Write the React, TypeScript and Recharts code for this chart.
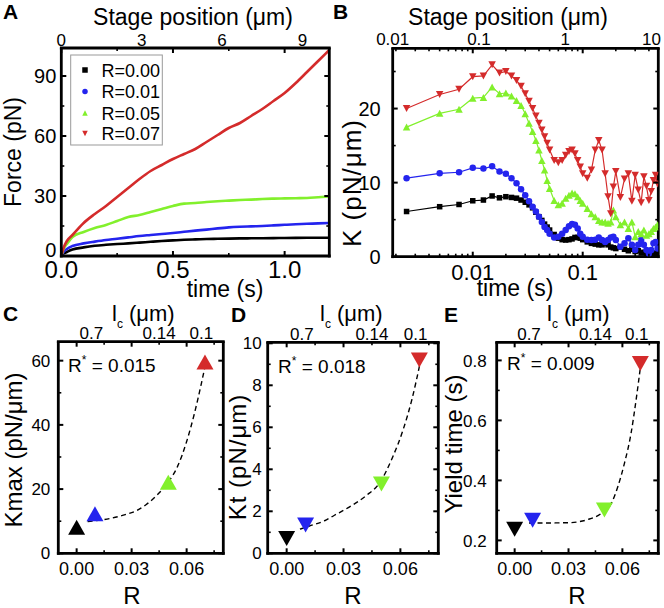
import React from 'react';
import { ComposedChart, Line, XAxis, YAxis } from 'recharts';

const FONT = '"Liberation Sans", Arial, Helvetica, sans-serif';

const C_BLACK = '#000000';
const C_BLUE = '#2424ee';
const C_GREEN = '#82f02c';
const C_RED = '#d42b2b';
const SERIES_COLORS = [C_BLACK, C_BLUE, C_GREEN, C_RED];
const SERIES_NAMES = ['R=0.00', 'R=0.01', 'R=0.05', 'R=0.07'];

// ---- panel A: force vs time ----
const A_TIME = [0, 0.01, 0.025, 0.05, 0.1, 0.15, 0.2, 0.25, 0.3, 0.35, 0.4, 0.45, 0.5, 0.55, 0.6, 0.65, 0.7, 0.75, 0.8, 0.85, 0.9, 0.95, 1.0, 1.05, 1.1, 1.15, 1.2];
const A_FORCE_R000 = [0, 1.2, 2, 3.2, 4.3, 5.1, 5.6, 6, 6.3, 6.7, 7.1, 7.5, 7.8, 8.1, 8.3, 8.5, 8.6, 8.7, 8.8, 8.85, 8.9, 8.95, 9, 9.05, 9.1, 9.1, 9.1];
const A_FORCE_R001 = [0, 2, 3.5, 5, 6.3, 7.2, 8, 8.6, 9.3, 10, 10.5, 11, 11.5, 12.1, 12.7, 13.2, 13.8, 14.3, 14.6, 14.8, 15, 15.3, 15.6, 15.9, 16.1, 16.3, 16.5];
const A_FORCE_R005 = [0, 3.5, 6, 9.5, 12, 14, 15.5, 17.5, 19.5, 20.5, 22, 23.5, 25, 26.2, 26.5, 27, 27.4, 27.7, 28, 28.2, 28.5, 28.7, 28.8, 28.9, 29, 29.4, 29.8];
const A_FORCE_R007 = [0, 4, 7.5, 10.5, 16.5, 21, 25, 29.5, 34, 38.5, 42.5, 45.5, 48.5, 51, 53.5, 57, 60.5, 64, 66.5, 70, 73.5, 77.5, 81.5, 86.5, 92, 97.5, 103];
const A_X_TICKS = [0, 0.25, 0.5, 0.75, 1.0];
const A_X_MAJOR = [0, 0.5, 1.0];
const A_Y_TICKS = [0, 15, 30, 45, 60, 75, 90];
const A_Y_MAJOR = [0, 30, 60, 90];
const A_STAGE_TICKS = [0, 3, 6, 9];

// ---- panel B: stiffness vs time (log) ----
const B_TIME = [0.0025, 0.005, 0.0075, 0.01, 0.0125, 0.015, 0.0175, 0.02, 0.0225, 0.025, 0.0275, 0.03, 0.0325, 0.035, 0.0375, 0.04, 0.0425, 0.045, 0.0475, 0.05, 0.055, 0.06, 0.065, 0.07, 0.075, 0.08, 0.085, 0.09, 0.095, 0.1, 0.11, 0.12, 0.13, 0.14, 0.15, 0.16, 0.17, 0.18, 0.19, 0.2, 0.22, 0.24, 0.26, 0.28, 0.3, 0.32, 0.34, 0.36, 0.38, 0.4, 0.42, 0.44, 0.46, 0.48];
const B_K_R000 = [6.1, 6.75, 7.05, 7.55, 7.65, 8.2, 7.95, 8.1, 8.0, 7.9, 7.65, 7.35, 7.0, 6.6, 6.0, 5.4, 4.9, 4.4, 4.0, 3.6, 3.0, 2.5, 2.3, 2.25, 2.3, 2.4, 2.6, 2.6, 2.5, 2.3, 2.0, 1.8, 1.7, 1.6, 1.6, 1.8, 1.6, 1.3, 1.2, 1.1, 1.3, 1.0, 0.8, 1.0, 0.7, 0.8, 0.5, 0.6, 0.4, 0.3, 0.4, 0.5, 0.3, 0.4];
const B_K_R001 = [10.6, 11.25, 11.4, 12.0, 11.9, 12.2, 11.5, 11.2, 10.6, 9.9, 9.1, 8.3, 7.5, 6.75, 6.1, 5.4, 4.7, 4.0, 3.6, 3.1, 2.6, 2.7, 3.1, 3.6, 4.1, 4.4, 4.3, 3.8, 3.1, 2.7, 2.3, 2.25, 2.3, 2.6, 2.25, 2.0, 2.25, 2.6, 2.7, 2.25, 1.35, 1.8, 2.5, 1.6, 0.9, 1.6, 2.25, 1.6, 0.9, 0.45, 0.9, 1.8, 2.0, 1.1];
const B_K_R005 = [17.5, 19.35, 19.9, 21.4, 21.5, 22.9, 22.0, 22.1, 21.7, 21.1, 20.4, 19.3, 18.0, 16.9, 15.7, 14.4, 13.0, 11.7, 10.3, 9.2, 7.6, 7.0, 7.2, 7.9, 8.3, 8.6, 8.5, 8.1, 7.6, 7.2, 6.5, 5.8, 5.4, 4.9, 4.7, 4.7, 4.5, 4.7, 6.3, 5.4, 4.3, 4.7, 3.8, 4.7, 2.7, 3.4, 3.1, 3.6, 2.9, 3.1, 3.4, 3.8, 4.0, 4.3];
const B_K_R007 = [20.0, 21.9, 22.6, 24.3, 24.4, 25.9, 24.8, 25.0, 24.4, 23.8, 23.0, 22.0, 21.0, 20.0, 19.0, 18.0, 17.1, 16.2, 15.3, 14.4, 13.0, 12.7, 13.0, 13.7, 14.2, 14.4, 13.9, 13.0, 12.1, 11.2, 10.6, 11.7, 14.4, 15.7, 14.4, 11.2, 8.1, 5.8, 9.4, 11.5, 8.0, 10.5, 11.2, 7.5, 11.0, 9.0, 7.3, 10.8, 9.5, 7.6, 8.8, 10.3, 11.0, 9.8];
const B_X_TICKS = [0.002, 0.003, 0.004, 0.005, 0.006, 0.007, 0.008, 0.009, 0.01, 0.02, 0.03, 0.04, 0.05, 0.06, 0.07, 0.08, 0.09, 0.1, 0.2, 0.3, 0.4];
const B_X_MAJOR = [0.01, 0.1];
const B_Y_TICKS = [0, 5, 10, 15, 20, 25];
const B_Y_MAJOR = [0, 10, 20];
const B_STAGE_TICKS = [0.01, 0.1, 1, 10];

// ---- panels C, D, E: vs R ----
const R_VALUES = [0, 0.01, 0.05, 0.07];
const C_KMAX = [8.1, 12.3, 22.1, 59.6];
const D_KT = [0.7, 1.35, 3.3, 9.2];
const E_YIELD = [0.237, 0.267, 0.301, 0.79];
const C_FIT_R = [0.006, 0.018, 0.025, 0.033, 0.038, 0.044, 0.05, 0.055, 0.06, 0.064, 0.068, 0.0705];
const C_FIT = [9.9, 10.8, 11.8, 13.4, 15.2, 18.2, 22.2, 27, 34.8, 43, 52.8, 59.5];
const D_FIT_R = [0.007, 0.012, 0.02, 0.025, 0.033, 0.042, 0.049, 0.056, 0.0615, 0.066, 0.0705];
const D_FIT = [1.15, 1.3, 1.55, 1.8, 2.2, 2.75, 3.35, 4.6, 5.9, 7.3, 9.1];
const E_FIT_R = [0.008, 0.015, 0.03, 0.041, 0.048, 0.0537, 0.0574, 0.0611, 0.0648, 0.0676, 0.0703];
const E_FIT = [0.258, 0.258, 0.259, 0.27, 0.289, 0.322, 0.378, 0.456, 0.556, 0.667, 0.79];
const R_TICKS = [0, 0.015, 0.03, 0.045, 0.06, 0.075];
const R_MAJOR = [0, 0.03, 0.06];
const LC_POS = [0.008, 0.045, 0.068];
const LC_LABELS = ['0.7', '0.14', '0.1'];
const C_Y_TICKS = [0, 10, 20, 30, 40, 50, 60];
const C_Y_MAJOR = [0, 20, 40, 60];
const D_Y_TICKS = [0, 1, 2, 3, 4, 5, 6, 7, 8, 9, 10];
const D_Y_MAJOR = [0, 2, 4, 6, 8, 10];
const E_Y_TICKS = [0.2, 0.3, 0.4, 0.5, 0.6, 0.7, 0.8];
const E_Y_MAJOR = [0.2, 0.4, 0.6, 0.8];

// plot boxes in page pixels
const A_BOX = { left: 61.3, top: 49, right: 329.3, bottom: 256 };
const B_BOX = { left: 392.7, top: 49.3, right: 658.3, bottom: 256.7 };
const C_BOX = { left: 58.3, top: 342.7, right: 223.3, bottom: 553.3 };
const D_BOX = { left: 267.7, top: 343.3, right: 438.3, bottom: 553.3 };
const E_BOX = { left: 496.7, top: 343.3, right: 658.3, bottom: 553.3 };

const W = 664;
const H = 608;
// every axis is 1px thick (recharts skips 0-sized axes); two axes sit on top
const marginOf = (b: typeof A_BOX) => ({ left: b.left - 1, top: b.top - 2, right: W - b.right - 1, bottom: H - b.bottom - 1 });

const AXIS_LINE = { stroke: '#000', strokeWidth: 2.8, strokeLinecap: 'square' as const };

const near = (a: number, b: number) => Math.abs(a - b) <= 1e-6 * Math.max(1e-3, Math.abs(b));

type Side = 'left' | 'right' | 'top' | 'bottom';
type TickOpts = {
  major: number[];
  fmt?: (v: number, i: number) => string;
  fontSize?: number;
  gap?: number;
  len?: number;
  minorLen?: number;
  showLine?: boolean;
  showLabel?: boolean;
  firstLift?: number;
};

// ticks point into the plot, labels only on majors
function makeTick(side: Side, o: TickOpts) {
  const { major, fmt, fontSize = 17, gap = 5, len = 5, minorLen = 3, showLine = true, showLabel = true, firstLift = 0 } = o;
  return (p: any) => {
    const { x, y, payload } = p;
    const v = payload.value;
    const isMajor = major.some((m) => near(v, m));
    const L = isMajor ? len : minorLen;
    const sw = isMajor ? 2 : 1.6;
    let line = null;
    if (showLine) {
      if (side === 'left') line = <line x1={x} x2={x + L} y1={y} y2={y} stroke="#000" strokeWidth={sw} />;
      if (side === 'right') line = <line x1={x} x2={x - L} y1={y} y2={y} stroke="#000" strokeWidth={sw} />;
      if (side === 'bottom') line = <line x1={x} x2={x} y1={y} y2={y - L} stroke="#000" strokeWidth={sw} />;
      if (side === 'top') line = <line x1={x} x2={x} y1={y} y2={y + L} stroke="#000" strokeWidth={sw} />;
    }
    let label = null;
    if (showLabel && isMajor) {
      const idx = major.findIndex((m) => near(v, m));
      const s = fmt ? fmt(v, idx) : String(v);
      const common = { fontFamily: FONT, fontSize, fill: '#000' };
      const lift = idx === 0 ? firstLift : 0;
      if (side === 'left') label = <text x={x - gap} y={y + fontSize * 0.36 - lift} textAnchor="end" {...common}>{s}</text>;
      if (side === 'right') label = <text x={x + gap} y={y + fontSize * 0.36} textAnchor="start" {...common}>{s}</text>;
      if (side === 'bottom') label = <text x={x} y={y + gap + fontSize * 0.72} textAnchor="middle" {...common}>{s}</text>;
      if (side === 'top') label = <text x={x} y={y - gap} textAnchor="middle" {...common}>{s}</text>;
    }
    return (
      <g>
        {line}
        {label}
      </g>
    );
  };
}

type FrameCfg = {
  xKey: string;
  xDomain: number[];
  xTicks: number[];
  xMajor: number[];
  xFmt?: (v: number) => string;
  xFont: number;
  xGap: number;
  xScale?: 'log' | 'linear';
  yDomain: number[];
  yTicks: number[];
  yMajor: number[];
  yFmt?: (v: number) => string;
  yFont: number;
  yGap: number;
  yFirstLift?: number;
};

// four axes that make the closed frame with mirrored ticks
function frameAxes(c: FrameCfg) {
  const common = {
    type: 'number' as const,
    allowDataOverflow: true,
    interval: 0 as const,
    tickSize: 0,
    tickMargin: 0,
    tickLine: false,
    axisLine: AXIS_LINE,
  };
  const scale = c.xScale || 'linear';
  return [
    <XAxis key="xb" xAxisId="b" orientation="bottom" height={1} dataKey={c.xKey} domain={c.xDomain} ticks={c.xTicks} scale={scale}
      tick={makeTick('bottom', { major: c.xMajor, fmt: c.xFmt, fontSize: c.xFont, gap: c.xGap })} {...common} />,
    <XAxis key="xt" xAxisId="t" orientation="top" height={1} dataKey={c.xKey} domain={c.xDomain} ticks={c.xTicks} scale={scale}
      tick={makeTick('top', { major: c.xMajor, showLabel: false })} {...common} />,
    <YAxis key="yl" yAxisId="l" orientation="left" width={1} domain={c.yDomain} ticks={c.yTicks}
      tick={makeTick('left', { major: c.yMajor, fmt: c.yFmt, fontSize: c.yFont, gap: c.yGap, firstLift: c.yFirstLift })} {...common} />,
    <YAxis key="yr" yAxisId="r" orientation="right" width={1} domain={c.yDomain} ticks={c.yTicks}
      tick={makeTick('right', { major: c.yMajor, showLabel: false })} {...common} />,
  ];
}

type Shape = 'square' | 'circle' | 'up' | 'down';
const B_SHAPES: Shape[] = ['square', 'circle', 'up', 'down'];

function marker(shape: Shape, cx: number, cy: number, w: number, h: number, fill: string, key?: string) {
  if (shape === 'square') return <rect key={key} x={cx - w / 2} y={cy - h / 2} width={w} height={h} fill={fill} />;
  if (shape === 'circle') return <circle key={key} cx={cx} cy={cy} r={w / 2} fill={fill} />;
  if (shape === 'up')
    return <polygon key={key} points={`${cx},${cy - h / 2} ${cx + w / 2},${cy + h / 2} ${cx - w / 2},${cy + h / 2}`} fill={fill} />;
  return <polygon key={key} points={`${cx - w / 2},${cy - h / 2} ${cx + w / 2},${cy - h / 2} ${cx},${cy + h / 2}`} fill={fill} />;
}

const B_SIZES = [
  [5.5, 5.5],
  [6.5, 6.5],
  [7.5, 7],
  [7.5, 7],
];

const aSeries = [A_FORCE_R000, A_FORCE_R001, A_FORCE_R005, A_FORCE_R007].map((vals) => A_TIME.map((t, i) => ({ t, v: vals[i] })));
const bSeries = [B_K_R000, B_K_R001, B_K_R005, B_K_R007].map((vals) => B_TIME.map((t, i) => ({ t, v: vals[i] })));

const toPoints = (xs: number[], ys: number[]) => xs.map((r, i) => ({ r, v: ys[i] }));

const abs0: React.CSSProperties = { position: 'absolute', left: 0, top: 0 };

function PanelA() {
  return (
    <div style={abs0}>
      <ComposedChart width={W} height={H} margin={marginOf(A_BOX)}>
        {frameAxes({
          xKey: 't', xDomain: [0, 1.2], xTicks: A_X_TICKS, xMajor: A_X_MAJOR, xFmt: (v) => v.toFixed(1), xFont: 24, xGap: 5,
          yDomain: [0, 103.5], yTicks: A_Y_TICKS, yMajor: A_Y_MAJOR, yFont: 20, yGap: 5, yFirstLift: 6,
        })}
        <XAxis xAxisId="s" orientation="top" type="number" dataKey="t" domain={[0, 10]} ticks={A_STAGE_TICKS} height={1}
          axisLine={false} tickLine={false} tickSize={0} tickMargin={0} interval={0} allowDataOverflow
          tick={makeTick('top', { major: A_STAGE_TICKS, showLine: false, fontSize: 17, gap: 3 })} />
        {aSeries.map((d, i) => (
          <Line key={i} xAxisId="b" yAxisId="l" data={d} dataKey="v" type="monotone" stroke={SERIES_COLORS[i]}
            strokeWidth={2.6} dot={false} isAnimationActive={false} />
        ))}
      </ComposedChart>
    </div>
  );
}

function PanelB() {
  return (
    <div style={abs0}>
      <ComposedChart width={W} height={H} margin={marginOf(B_BOX)}>
        {frameAxes({
          xKey: 't', xDomain: [0.00187, 0.487], xTicks: B_X_TICKS, xMajor: B_X_MAJOR, xScale: 'log', xFont: 22, xGap: 7,
          yDomain: [0, 28], yTicks: B_Y_TICKS, yMajor: B_Y_MAJOR, yFont: 20, yGap: 12,
        })}
        <XAxis xAxisId="s" orientation="top" type="number" scale="log" dataKey="t" domain={[0.01, 12]} ticks={B_STAGE_TICKS} height={1}
          axisLine={false} tickLine={false} tickSize={0} tickMargin={0} interval={0} allowDataOverflow
          tick={makeTick('top', { major: B_STAGE_TICKS, showLine: false, fontSize: 17, gap: 4 })} />
        {bSeries.map((d, i) => (
          <Line key={i} xAxisId="b" yAxisId="l" data={d} dataKey="v" type="linear" stroke={SERIES_COLORS[i]}
            strokeWidth={1.2} isAnimationActive={false}
            dot={(p: any) =>
              p.cx == null ? <g key={`e${p.index}`} /> :
              marker(B_SHAPES[i], p.cx, p.cy, B_SIZES[i][0], B_SIZES[i][1], SERIES_COLORS[i], `m${i}-${p.index}`)
            } />
        ))}
      </ComposedChart>
    </div>
  );
}

type RPanelProps = {
  box: typeof A_BOX;
  values: number[];
  fitR: number[];
  fit: number[];
  yDomain: number[];
  yTicks: number[];
  yMajor: number[];
  yFmt?: (v: number) => string;
  yGap: number;
  shape: Shape;
};

function RPanel({ box, values, fitR, fit, yDomain, yTicks, yMajor, yFmt, yGap, shape }: RPanelProps) {
  const pts = toPoints(R_VALUES, values);
  const fitPts = toPoints(fitR, fit);
  return (
    <div style={abs0}>
      <ComposedChart width={W} height={H} margin={marginOf(box)}>
        {frameAxes({
          xKey: 'r', xDomain: [-0.01, 0.08], xTicks: R_TICKS, xMajor: R_MAJOR, xFmt: (v) => v.toFixed(2), xFont: 18, xGap: 8.5,
          yDomain, yTicks, yMajor, yFmt, yFont: 17, yGap,
        })}
        <XAxis xAxisId="s" orientation="top" type="number" dataKey="r" domain={[-0.01, 0.08]} ticks={LC_POS} height={1}
          axisLine={false} tickLine={false} tickSize={0} tickMargin={0} interval={0} allowDataOverflow
          tick={makeTick('top', { major: LC_POS, fmt: (_v, i) => LC_LABELS[i], showLine: false, fontSize: 17, gap: 3.5 })} />
        <Line xAxisId="b" yAxisId="l" data={pts} dataKey="v" stroke="none" strokeWidth={0} isAnimationActive={false}
          dot={(p: any) =>
            p.cx == null ? <g key={`e${p.index}`} /> :
            marker(shape, p.cx, p.cy, 17, 15, SERIES_COLORS[p.index], `t${p.index}`)
          } />
        <Line xAxisId="b" yAxisId="l" data={fitPts} dataKey="v" type="monotone" stroke="#000" strokeWidth={1.4}
          strokeDasharray="5 3.5" dot={false} isAnimationActive={false} />
      </ComposedChart>
    </div>
  );
}

const txt = { fontFamily: FONT, fill: '#000' };

function LcTitle({ x, y }: { x: number; y: number }) {
  return (
    <text x={x} y={y} fontSize={22} {...txt}>
      l<tspan fontSize={12} dy={7}>c</tspan>
      <tspan dy={-7}> (μm)</tspan>
    </text>
  );
}

function RStar({ x, y, v }: { x: number; y: number; v: string }) {
  return (
    <text x={x} y={y} fontSize={19} {...txt}>
      R<tspan fontSize={12} dy={-8}>*</tspan>
      <tspan dy={8}> = {v}</tspan>
    </text>
  );
}

function VTitle({ x, y, size, spacing = 0, children }: { x: number; y: number; size: number; spacing?: number; children: React.ReactNode }) {
  return (
    <text x={x} y={y} fontSize={size} letterSpacing={spacing} textAnchor="middle" transform={`rotate(-90 ${x} ${y})`} {...txt}>
      {children}
    </text>
  );
}

function Overlay() {
  const legendRows = [70, 91.5, 113, 133.5];
  return (
    <svg width={W} height={H} style={{ ...abs0, pointerEvents: 'none' }}>
      {/* panel letters */}
      {[['A', 3, 19], ['B', 333, 19], ['C', 3, 321], ['D', 231, 322], ['E', 444, 322]].map(([s, x, y]) => (
        <text key={s as string} x={x as number} y={y as number} fontSize={21} fontWeight="bold" {...txt}>{s}</text>
      ))}

      {/* A */}
      <text x={193} y={25} fontSize={23} textAnchor="middle" {...txt}>Stage position (μm)</text>
      <text x={225} y={297} fontSize={23} textAnchor="middle" {...txt}>time (s)</text>
      <VTitle x={21} y={152} size={23}>Force (pN)</VTitle>
      <rect x={70.7} y={55} width={91.6} height={90} fill="#fff" stroke="#999" strokeWidth={1} />
      {SERIES_NAMES.map((name, i) => (
        <g key={name}>
          {marker(B_SHAPES[i], 85, legendRows[i], 5.5, 5.5, SERIES_COLORS[i])}
          <text x={101.5} y={legendRows[i] + 6.5} fontSize={18} {...txt}>{name}</text>
        </g>
      ))}

      {/* B */}
      <text x={508} y={25} fontSize={23} textAnchor="middle" {...txt}>Stage position (μm)</text>
      <text x={515} y={296} fontSize={23} textAnchor="middle" {...txt}>time (s)</text>
      <VTitle x={361} y={183} size={26} spacing={1}>K (pN/μm)</VTitle>

      {/* C */}
      <LcTitle x={112} y={321} />
      <RStar x={68} y={372} v="0.015" />
      <text x={132} y={604} fontSize={24} textAnchor="middle" {...txt}>R</text>
      <VTitle x={22} y={450} size={24}>Kmax (pN/μm)</VTitle>

      {/* D */}
      <LcTitle x={320} y={321} />
      <RStar x={278} y={373} v="0.018" />
      <text x={353} y={604} fontSize={24} textAnchor="middle" {...txt}>R</text>
      <VTitle x={246} y={457} size={24} spacing={1}>Kt (pN/μm)</VTitle>

      {/* E */}
      <LcTitle x={547} y={321} />
      <RStar x={507} y={370} v="0.009" />
      <text x={577} y={604} fontSize={24} textAnchor="middle" {...txt}>R</text>
      <VTitle x={462} y={444} size={24}>Yield time (s)</VTitle>
    </svg>
  );
}

export default function App() {
  return (
    <div style={{ position: 'absolute', left: 0, top: 0, width: W, height: H, background: '#fff', overflow: 'hidden' }}>
      <PanelA />
      <PanelB />
      <RPanel box={C_BOX} values={C_KMAX} fitR={C_FIT_R} fit={C_FIT} yDomain={[0, 65.6]} yTicks={C_Y_TICKS} yMajor={C_Y_MAJOR} yGap={8} shape="up" />
      <RPanel box={D_BOX} values={D_KT} fitR={D_FIT_R} fit={D_FIT} yDomain={[0, 10]} yTicks={D_Y_TICKS} yMajor={D_Y_MAJOR} yGap={6} shape="down" />
      <RPanel box={E_BOX} values={E_YIELD} fitR={E_FIT_R} fit={E_FIT} yDomain={[0.157, 0.857]} yTicks={E_Y_TICKS} yMajor={E_Y_MAJOR}
        yFmt={(v) => v.toFixed(1)} yGap={10} shape="down" />
      <Overlay />
    </div>
  );
}
